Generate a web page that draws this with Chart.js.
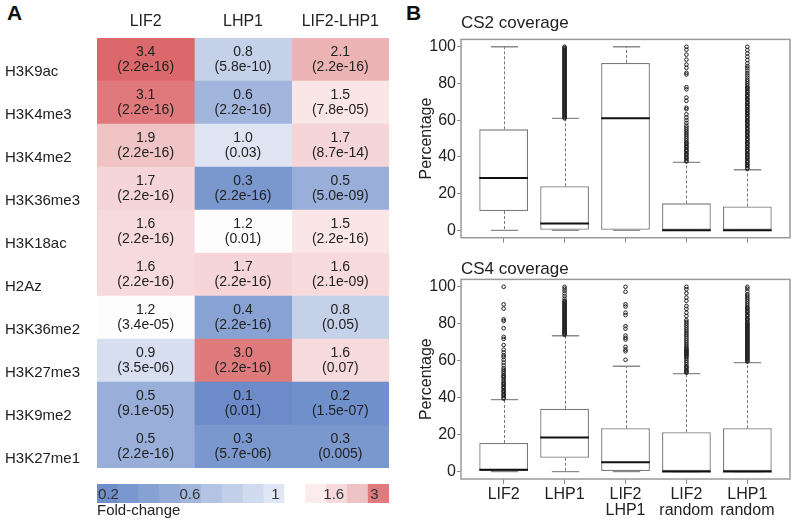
<!DOCTYPE html>
<html>
<head>
<meta charset="utf-8">
<script src="https://cdn.jsdelivr.net/npm/chart.js@4.4.1/dist/chart.umd.min.js"></script>
<style>
  html, body { margin: 0; padding: 0; background: #fff; }
  body { width: 796px; height: 521px; position: relative; overflow: hidden;
         font-family: 'Liberation Sans', Arial, sans-serif; }
  canvas { position: absolute; }
  .letter { position: absolute; font-weight: bold; font-size: 21px; line-height: 21px; color: #111; }
</style>
</head>
<body>
<div class="letter" style="left:7px; top:2px;">A</div>
<div class="letter" style="left:406px; top:2px;">B</div>
<canvas id="heat" width="400" height="480" style="left:0; top:0;"></canvas>
<canvas id="scale" width="292" height="37" style="left:97px; top:484px;"></canvas>
<canvas id="cs2" width="396" height="250" style="left:400px; top:0;"></canvas>
<canvas id="cs4" width="396" height="271" style="left:400px; top:250px;"></canvas>
<script>
'use strict';

/* ---------- data: panel A ---------- */
const rowNames = ['H3K9ac', 'H3K4me3', 'H3K4me2', 'H3K36me3', 'H3K18ac', 'H2Az',
                  'H3K36me2', 'H3K27me3', 'H3K9me2', 'H3K27me1'];
const colNames = ['LIF2', 'LHP1', 'LIF2-LHP1'];
const foldLIF2 = [3.4, 3.1, 1.9, 1.7, 1.6, 1.6, 1.2, 0.9, 0.5, 0.5];
const pLIF2    = ['2.2e-16', '2.2e-16', '2.2e-16', '2.2e-16', '2.2e-16', '2.2e-16', '3.4e-05', '3.5e-06', '9.1e-05', '2.2e-16'];
const foldLHP1 = [0.8, 0.6, 1.0, 0.3, 1.2, 1.7, 0.4, 3.0, 0.1, 0.3];
const pLHP1    = ['5.8e-10', '2.2e-16', '0.03', '2.2e-16', '0.01', '2.2e-16', '2.2e-16', '2.2e-16', '0.01', '5.7e-06'];
const foldBoth = [2.1, 1.5, 1.7, 0.5, 1.5, 1.6, 0.8, 1.6, 0.2, 0.3];
const pBoth    = ['2.2e-16', '7.8e-05', '8.7e-14', '5.0e-09', '2.2e-16', '2.1e-09', '0.05', '0.07', '1.5e-07', '0.005'];

/* colour key */
const keyBins      = ['b1', 'b2', 'b3', 'b4', 'b5', 'b6', 'b7', 'b8', 'b9', 'b10', 'b11', 'b12', 'b13', 'b14'];
const keyLabels    = ['0.2', '0.6', '1', '1.6', '3'];
const keyLabelBins = [0.05, 3.95, 8.05, 10.85, 12.8];

/* ---------- data: panel B ---------- */
const groups = ['LIF2', 'LHP1', ['LIF2', 'LHP1'], ['LIF2', 'random'], ['LHP1', 'random']];

const cs2Lo  = [0, 0, 0, 0, 0];
const cs2Q1  = [10.5, 0, 0, 0, 0];
const cs2Med = [28.5, 3.8, 61, 0, 0];
const cs2Q3  = [55, 24, 91.2, 14.7, 13];
const cs2Hi  = [100, 61, 100, 37, 33];
const cs2Out = [
  [],
  [61, 61.5, 62, 62.5, 63, 63.5, 64, 64.5, 65, 65.5, 66, 66.5, 67, 67.5, 68, 68.5, 69, 69.5, 70,
   70.5, 71, 71.5, 72, 72.5, 73, 73.5, 74, 74.5, 75, 75.5, 76, 76.5, 77, 77.5, 78, 78.5, 79, 79.5,
   80, 80.5, 81, 81.5, 82, 82.5, 83, 83.5, 84, 84.5, 85, 85.5, 86, 86.5, 87, 87.5, 88, 88.5, 89,
   89.5, 90, 90.5, 91, 91.5, 92, 92.5, 93, 93.5, 94, 94.5, 95, 95.5, 96, 96.5, 97, 97.5, 98, 98.5,
   99, 99.5, 100],
  [],
  [100, 98.4, 95.7, 93, 90.3, 88.5, 85.8, 84.9, 78, 76.8, 72.3, 70.5, 66.8, 66, 63.2, 61.5, 60,
   58.5, 57, 56, 55, 54, 53, 52, 51, 50, 49, 48, 47.5, 47, 46, 45.5, 45, 44, 43.5, 43, 42, 41.5,
   41, 40, 39.5, 39, 38, 37.5],
  [100, 98.2, 96.4, 94.6, 92.8, 91, 89.5, 88.3, 87, 85.6, 84.4, 83.2, 82, 81, 80, 79, 78, 77.5, 77,
   76, 75.5, 75, 74, 73.5, 73, 72, 71.5, 71, 70, 69.5, 69, 68, 67.5, 67, 66, 65.5, 65, 64, 63.5,
   63, 62, 61.5, 61, 60, 59.5, 59, 58, 57.5, 57, 56, 55.5, 55, 54, 53.5, 53, 52, 51.5, 51, 50,
   49.5, 49, 48, 47.5, 47, 46, 45.5, 45, 44, 43.5, 43, 42, 41.5, 41, 40, 39.5, 39, 38, 37.5, 37,
   36, 35.5, 35, 34, 33.5],
];

const cs4Lo  = [0, 0, 0, 0, 0];
const cs4Q1  = [0, 7.5, 0, 0, 0];
const cs4Med = [1, 18.5, 5, 0, 0];
const cs4Q3  = [15.5, 34, 23.5, 21.3, 23.5];
const cs4Hi  = [39, 73.5, 57, 53, 59];
const cs4Out = [
  [100, 90.5, 88.2, 82.4, 81.5, 77.6, 72.9, 71.8, 68.5, 66, 64.5, 63, 62, 60.5, 59, 57.5, 56, 55,
   54, 53, 52, 51.5, 51, 50, 49, 48, 47.5, 47, 46, 45.5, 45, 44, 43.5, 43, 42, 41.5, 41, 40, 39.5],
  [100, 99, 97.8, 96.4, 95, 93.6, 92.5, 92, 91.5, 91, 90.5, 90, 89.5, 89, 88.5, 88, 87.5, 87,
   86.5, 86, 85.5, 85, 84.5, 84, 83.5, 83, 82.5, 82, 81.5, 81, 80.5, 80, 79.5, 79, 78.5, 78, 77.5,
   77, 76.5, 76, 75.5, 75, 74.5, 74],
  [100, 97.3, 90.5, 89.3, 86, 84.7, 78.7, 77.3, 73.6, 72.4, 71.5, 67.5, 66, 65.1, 60.5],
  [100, 98.7, 96.5, 94.2, 92.4, 89.6, 88, 86, 84.2, 82, 81, 80, 79, 78, 77, 76, 75, 74, 73, 72,
   71, 70, 69, 68, 67, 66.5, 66, 65.5, 65, 64.5, 64, 63.5, 63, 62.5, 62, 61, 60, 59, 58, 57, 56.5,
   56, 55, 54.5, 54, 53.5],
  [100, 99, 97.5, 96, 95, 94, 93, 92, 91, 90, 89, 88.5, 88, 87, 86.5, 86, 85, 84.5, 84, 83, 82.5,
   82, 81, 80.5, 80, 79.5, 79, 78.5, 78, 77.5, 77, 76.5, 76, 75.5, 75, 74.5, 74, 73.5, 73, 72.5,
   72, 71.5, 71, 70.5, 70, 69.5, 69, 68.5, 68, 67.5, 67, 66.5, 66, 65.5, 65, 64.5, 64, 63.5, 63,
   62.5, 62, 61.5, 61, 60.5, 60, 59.5],
];

/* ---------- styles ---------- */
const FONT = "'Liberation Sans', Arial, sans-serif";
const INK  = '#222';

/* fold-change -> cell colour (stops) */
const colourStops = [
  [0.1, [108, 139, 200]], [0.2, [112, 144, 203]], [0.3, [122, 151, 206]], [0.4, [136, 162, 212]],
  [0.5, [153, 175, 218]], [0.6, [162, 182, 221]], [0.8, [197, 209, 233]], [0.9, [214, 222, 240]],
  [1.0, [222, 228, 242]], [1.2, [253, 253, 254]], [1.5, [250, 229, 231]], [1.6, [247, 218, 220]],
  [1.7, [245, 213, 215]], [1.9, [240, 195, 197]], [2.1, [237, 180, 181]], [3.0, [224, 123, 125]],
  [3.1, [223, 121, 123]], [3.4, [219, 105, 107]],
];
const keyColours = ['#6f8fca', '#7a97ce', '#87a1d3', '#94abd8', '#a3b7dd', '#b3c3e3', '#c2cfe9',
                    '#d1dbef', '#e0e7f4', '#ffffff', '#fbecee', '#f5d9db', '#eec3c5', '#df7b7e'];

function foldColour(v) {
  if (v <= colourStops[0][0]) return `rgb(${colourStops[0][1]})`;
  for (let i = 1; i < colourStops.length; i++) {
    const [v1, c1] = colourStops[i];
    const [v0, c0] = colourStops[i - 1];
    if (v <= v1) {
      const t = (v - v0) / (v1 - v0);
      const c = c0.map((a, k) => Math.round(a + (c1[k] - a) * t));
      return `rgb(${c})`;
    }
  }
  return `rgb(${colourStops[colourStops.length - 1][1]})`;
}

/* ---------- panel A: heatmap ---------- */
const folds  = [foldLIF2, foldLHP1, foldBoth];
const pvals  = [pLIF2, pLHP1, pBoth];

const cellText = {
  id: 'cellText',
  afterDatasetsDraw(chart) {
    const ctx = chart.ctx;
    ctx.save();
    ctx.fillStyle = INK;
    ctx.font = `14px ${FONT}`;
    ctx.textAlign = 'center';
    ctx.textBaseline = 'middle';
    folds.forEach((vals, c) => {
      chart.getDatasetMeta(c).data.forEach((el, r) => {
        const { x, y } = el.getCenterPoint();
        ctx.fillText(vals[r].toFixed(1), x, y - 7);
        ctx.fillText(`(${pvals[c][r]})`, x, y + 7.5);
      });
    });
    ctx.restore();
  },
};

new Chart(document.getElementById('heat'), {
  type: 'bar',
  data: {
    labels: rowNames,
    datasets: folds.map((vals, c) => ({
      data: vals.map(() => [c, c + 1]),
      backgroundColor: vals.map(foldColour),
      borderWidth: 0,
      grouped: false,
      barPercentage: 1,
      categoryPercentage: 1,
    })),
  },
  options: {
    indexAxis: 'y',
    animation: false,
    responsive: false,
    events: [],
    layout: { padding: { left: 5, right: 11, top: 0, bottom: 1 } },
    plugins: { legend: { display: false }, tooltip: { enabled: false } },
    scales: {
      x: {
        type: 'linear', position: 'top', min: 0, max: 3,
        grid: { display: false }, border: { display: false },
        afterBuildTicks: s => { s.ticks = [0.5, 1.5, 2.5].map(v => ({ value: v })); },
        afterFit: s => { s.height = 38; },
        ticks: {
          padding: 0, color: INK, font: { family: FONT, size: 16, lineHeight: 1.1 },
          callback: v => colNames[Math.floor(v)],
        },
      },
      y: {
        grid: { display: false }, border: { display: false },
        afterFit: s => { s.width = 92; },
        ticks: {
          crossAlign: 'far', labelOffset: 12, color: INK,
          font: { family: FONT, size: 15 },
        },
      },
    },
  },
  plugins: [cellText],
});

/* colour key */
const keyText = {
  id: 'keyText',
  afterDatasetsDraw(chart) {
    const ctx = chart.ctx;
    const x = chart.scales.x;
    const x0 = x.getPixelForValue(0);
    const step = x.getPixelForValue(1) - x0;
    const yMid = (chart.chartArea.top + chart.chartArea.bottom) / 2;
    ctx.save();
    ctx.fillStyle = '#333';
    ctx.font = `15px ${FONT}`;
    ctx.textAlign = 'center';
    ctx.textBaseline = 'middle';
    keyLabels.forEach((t, i) => ctx.fillText(t, x0 + keyLabelBins[i] * step, yMid + 1));
    ctx.restore();
  },
};

new Chart(document.getElementById('scale'), {
  type: 'bar',
  data: {
    labels: keyBins,
    datasets: [{
      data: keyBins.map(() => 1),
      backgroundColor: keyColours,
      borderWidth: 0,
      barPercentage: 1,
      categoryPercentage: 1,
    }],
  },
  options: {
    animation: false,
    responsive: false,
    events: [],
    layout: { padding: 0 },
    plugins: { legend: { display: false }, tooltip: { enabled: false } },
    scales: {
      x: {
        grid: { display: false }, border: { display: false },
        ticks: { display: false },
        afterFit: s => { s.height = 18; },
        title: {
          display: true, text: 'Fold-change', align: 'start', color: INK,
          font: { family: FONT, size: 15, lineHeight: 1.2 }, padding: { top: 0, bottom: 1 },
        },
      },
      y: { display: false, min: 0, max: 1 },
    },
  },
  plugins: [keyText],
});

/* ---------- panel B: box plots ---------- */
function boxParts(lo, q1, med, q3, hi) {
  return {
    id: 'boxParts',
    beforeDatasetsDraw(chart) {
      const ctx = chart.ctx;
      const y = chart.scales.y;
      const bars = chart.getDatasetMeta(0).data;
      ctx.save();
      bars.forEach((el, i) => {
        const cx = Math.round(el.x) + 0.5;
        const half = el.width * 0.28;
        ctx.strokeStyle = '#777';
        ctx.lineWidth = 1;
        ctx.setLineDash([3, 2]);
        ctx.beginPath();
        if (hi[i] > q3[i]) { ctx.moveTo(cx, y.getPixelForValue(q3[i])); ctx.lineTo(cx, y.getPixelForValue(hi[i])); }
        if (lo[i] < q1[i]) { ctx.moveTo(cx, y.getPixelForValue(q1[i])); ctx.lineTo(cx, y.getPixelForValue(lo[i])); }
        ctx.stroke();
        ctx.setLineDash([]);
        ctx.strokeStyle = '#8a8a8a';
        ctx.lineWidth = 1.3;
        ctx.beginPath();
        [lo[i], hi[i]].forEach(v => {
          const py = y.getPixelForValue(v);
          ctx.moveTo(cx - half, py);
          ctx.lineTo(cx + half, py);
        });
        ctx.stroke();
      });
      ctx.restore();
    },
    afterDatasetsDraw(chart) {
      const ctx = chart.ctx;
      const y = chart.scales.y;
      const { left, top, right, bottom } = chart.chartArea;
      ctx.save();
      ctx.strokeStyle = '#111';
      ctx.lineWidth = 2;
      chart.getDatasetMeta(0).data.forEach((el, i) => {
        const py = y.getPixelForValue(med[i]);
        ctx.beginPath();
        ctx.moveTo(el.x - el.width / 2, py);
        ctx.lineTo(el.x + el.width / 2, py);
        ctx.stroke();
      });
      ctx.strokeStyle = '#9a9a9a';
      ctx.lineWidth = 1.5;
      ctx.strokeRect(left, top, right - left, bottom - top);
      ctx.restore();
    },
  };
}

function boxChart(id, title, lo, q1, med, q3, hi, out, titlePad, axisHeight, showLabels) {
  const outPoints = [];
  out.forEach((vals, i) => vals.forEach(v => outPoints.push({ x: i + 1, y: v })));

  return new Chart(document.getElementById(id), {
    type: 'bar',
    data: {
      datasets: [
        {
          data: q1.map((v, i) => ({ x: i + 1, y: [v, q3[i]] })),
          backgroundColor: '#fff',
          borderColor: '#7a7a7a',
          borderWidth: 1.3,
          borderSkipped: false,
          barPercentage: 0.8,
          categoryPercentage: 1,
        },
        {
          type: 'scatter',
          data: outPoints,
          pointRadius: 1.8,
          pointBorderWidth: 1,
          pointBorderColor: '#1e1e1e',
          pointBackgroundColor: 'rgba(0,0,0,0)',
        },
      ],
    },
    options: {
      animation: false,
      responsive: false,
      events: [],
      layout: { padding: { left: 0, right: 6, top: 0, bottom: 0 } },
      plugins: {
        legend: { display: false },
        tooltip: { enabled: false },
        title: {
          display: true, text: title, align: 'start', fullSize: false, color: INK,
          font: { family: FONT, size: 17, weight: 'normal', lineHeight: 1.2 },
          padding: titlePad,
        },
      },
      scales: {
        x: {
          type: 'linear', min: 0.3, max: 5.7, offset: false,
          border: { display: false },
          grid: { offset: false, drawOnChartArea: false, drawTicks: true, tickLength: 5, color: '#8a8a8a' },
          afterBuildTicks: s => { s.ticks = groups.map((g, i) => ({ value: i + 1 })); },
          afterFit: s => { s.height = axisHeight; },
          ticks: {
            padding: 2, color: INK, maxRotation: 0, autoSkip: false,
            font: { family: FONT, size: 16, lineHeight: 1.04 },
            callback: v => (showLabels ? groups[v - 1] : ''),
          },
        },
        y: {
          min: -4, max: 104,
          border: { display: false },
          grid: { drawOnChartArea: false, drawTicks: true, tickLength: 4, color: '#8a8a8a' },
          afterBuildTicks: s => { s.ticks = [0, 20, 40, 60, 80, 100].map(v => ({ value: v })); },
          afterFit: s => { s.width = 61; },
          ticks: { padding: 1, color: INK, font: { family: FONT, size: 16 } },
          title: {
            display: true, text: 'Percentage', color: INK,
            font: { family: FONT, size: 16, lineHeight: 1.2 }, padding: { top: 17, bottom: 0 },
          },
        },
      },
    },
    plugins: [boxParts(lo, q1, med, q3, hi)],
  });
}

boxChart('cs2', 'CS2 coverage', cs2Lo, cs2Q1, cs2Med, cs2Q3, cs2Hi, cs2Out,
         { top: 13, bottom: 6 }, 12.3, false);
boxChart('cs4', 'CS4 coverage', cs4Lo, cs4Q1, cs4Med, cs4Q3, cs4Hi, cs4Out,
         { top: 9, bottom: 0 }, 42, true);
</script>
</body>
</html>
